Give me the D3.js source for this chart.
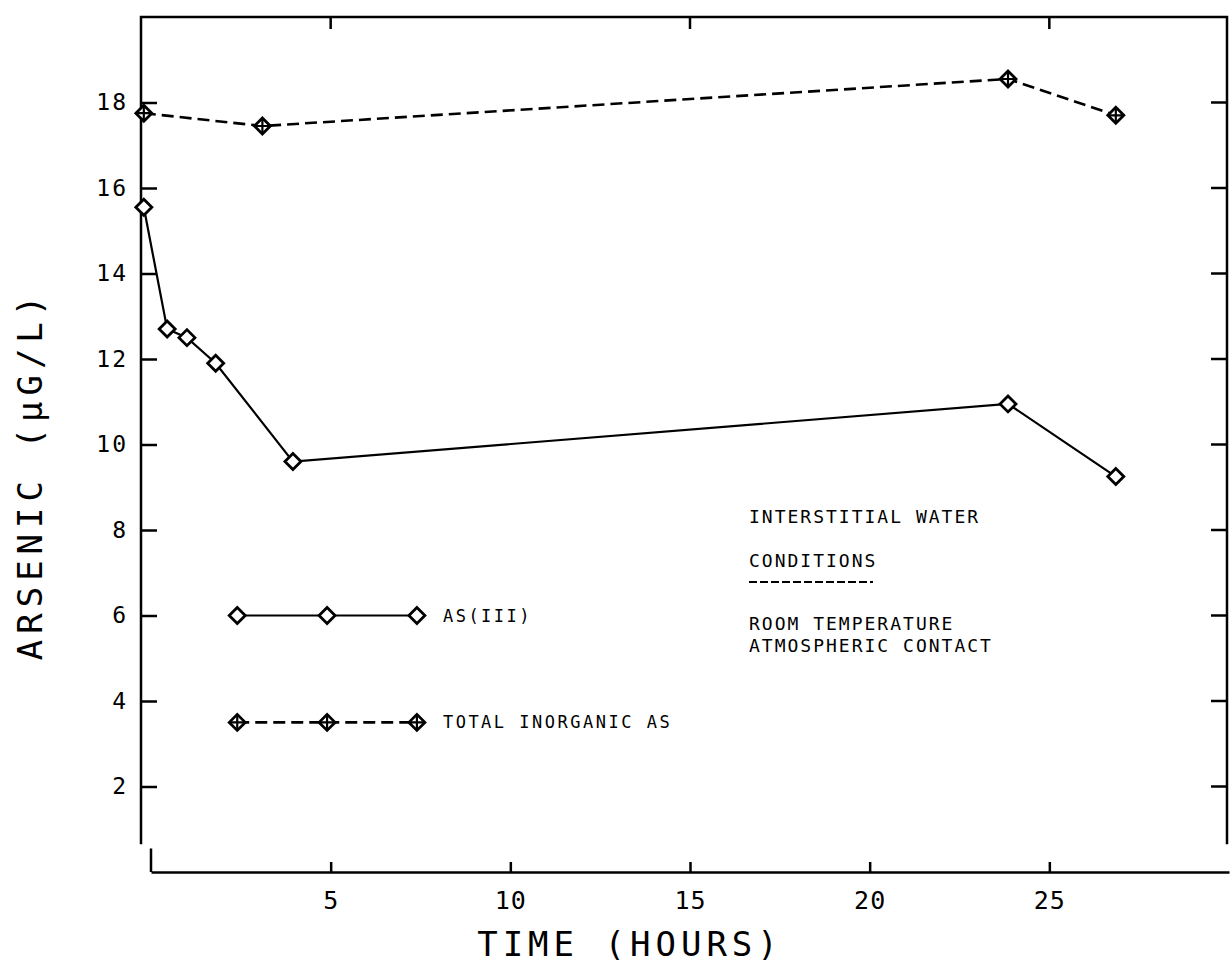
<!DOCTYPE html>
<html lang="en">
<head>
    <meta charset="UTF-8">
    <title>Arsenic in interstitial water vs time</title>
    <script src="https://d3js.org/d3.v7.min.js"></script>
    <style>
        body { margin: 0; padding: 0; background: #fff; overflow: hidden; }
        text { font-family: "DejaVu Sans Mono", "Liberation Mono", monospace; fill: #000; }
        .axis path, .axis line { stroke: #000; stroke-width: 2.5; }
        .frame { stroke: #000; stroke-width: 2.5; fill: none; }
    </style>
</head>
<body>
    <svg id="chart" width="1230" height="963"></svg>

    <script>
        // As(III), solid line with open diamonds
        const as3Time = [-0.2, 0.45, 1.0, 1.8, 3.95, 23.85, 26.85];
        const as3Value = [15.55, 12.7, 12.5, 11.9, 9.6, 10.95, 9.25];

        // Total inorganic As, dashed line with crossed diamonds
        const totalTime = [-0.2, 3.1, 23.85, 26.85];
        const totalValue = [17.75, 17.45, 18.55, 17.7];

        // legend sample points
        const legendTime = [2.4, 4.9, 7.4];
        const legendAs3Y = 6.0;
        const legendTotalY = 3.5;

        const xTicks = [5, 10, 15, 20, 25];
        const xTopTicks = [5, 15, 25];
        const yTicks = [2, 4, 6, 8, 10, 12, 14, 16, 18];

        const notes = ["INTERSTITIAL WATER", "CONDITIONS", "ROOM TEMPERATURE", "ATMOSPHERIC CONTACT"];

        const svg = d3.select("#chart");

        const x = d3.scaleLinear().domain([0, 30]).range([151, 1229]);
        const y = d3.scaleLinear().domain([0, 20]).range([872, 17]);
        const leftX = 141, rightX = 1227, topY = 17;

        // frame: left, top, right edges (bottom comes from the x axis)
        svg.append("path").attr("class", "frame")
            .attr("d", `M${leftX},${y(0.65)}V${topY}H${rightX}V${y(0.65)}`);
        svg.append("line").attr("class", "frame")
            .attr("x1", x(0)).attr("x2", x(0)).attr("y1", y(0.55)).attr("y2", y(0));

        // bottom axis, ticks pointing inward
        const xAxis = svg.append("g").attr("class", "axis")
            .attr("transform", `translate(0,${y(0)})`)
            .call(d3.axisBottom(x).tickValues(xTicks).tickSizeInner(-10).tickSizeOuter(0).tickPadding(18));
        xAxis.selectAll("text").attr("font-size", 25).attr("letter-spacing", 1).attr("dy", "0.75em");

        // top ticks
        svg.append("g").selectAll("line").data(xTopTicks).join("line")
            .attr("x1", d => x(d)).attr("x2", d => x(d))
            .attr("y1", topY).attr("y2", topY + 12)
            .attr("stroke", "#000").attr("stroke-width", 2.5);

        // left axis
        const yAxis = svg.append("g").attr("class", "axis")
            .attr("transform", `translate(${leftX},0)`)
            .call(d3.axisLeft(y).tickValues(yTicks).tickSizeInner(-16).tickSizeOuter(0).tickPadding(13));
        yAxis.select(".domain").remove();
        yAxis.selectAll("text").attr("font-size", 23).attr("letter-spacing", 2);

        // right ticks
        svg.append("g").selectAll("line").data(yTicks).join("line")
            .attr("x1", rightX - 16).attr("x2", rightX)
            .attr("y1", d => y(d)).attr("y2", d => y(d))
            .attr("stroke", "#000").attr("stroke-width", 2.5);

        // axis titles
        svg.append("text")
            .attr("x", 630).attr("y", 956)
            .attr("text-anchor", "middle").attr("font-size", 34).attr("letter-spacing", 5)
            .text("TIME (HOURS)");
        svg.append("text")
            .attr("transform", `translate(42,475) rotate(-90)`)
            .attr("text-anchor", "middle").attr("font-size", 34).attr("letter-spacing", 6)
            .text("ARSENIC (\u00B5G/L)");

        const line = d3.line().x(d => x(d[0])).y(d => y(d[1]));
        const as3 = d3.zip(as3Time, as3Value);
        const total = d3.zip(totalTime, totalValue);
        const legAs3 = legendTime.map(t => [t, legendAs3Y]);
        const legTotal = legendTime.map(t => [t, legendTotalY]);

        function drawSeries(pts, dashed) {
            svg.append("path").datum(pts)
                .attr("d", line).attr("fill", "none").attr("stroke", "#000")
                .attr("stroke-width", dashed ? 2.6 : 2.2)
                .attr("stroke-dasharray", dashed ? "12,6" : null);
            const s = 8;
            const g = svg.append("g").selectAll("g").data(pts).join("g")
                .attr("transform", d => `translate(${x(d[0])},${y(d[1])})`);
            g.append("path")
                .attr("d", `M0,${-s}L${s},0L0,${s}L${-s},0Z`)
                .attr("fill", "#fff").attr("stroke", "#000").attr("stroke-width", 2.8);
            if (dashed) {
                g.append("path")
                    .attr("d", `M0,${-s}V${s}M${-s},0H${s}`)
                    .attr("stroke", "#000").attr("stroke-width", 2.2);
            }
        }

        drawSeries(as3, false);
        drawSeries(total, true);
        drawSeries(legAs3, false);
        drawSeries(legTotal, true);

        // legend labels
        svg.append("text")
            .attr("x", x(legendTime[2]) + 26).attr("y", y(legendAs3Y) + 6)
            .attr("font-size", 17).attr("letter-spacing", 2.5)
            .text("AS(III)");
        svg.append("text")
            .attr("x", x(legendTime[2]) + 26).attr("y", y(legendTotalY) + 6)
            .attr("font-size", 17).attr("letter-spacing", 2.5)
            .text("TOTAL INORGANIC AS");

        // condition notes
        const noteY = [523, 567, 630, 652];
        svg.append("g").selectAll("text").data(notes).join("text")
            .attr("x", 749).attr("y", (d, i) => noteY[i])
            .attr("font-size", 18).attr("letter-spacing", 2)
            .text(d => d);
        // dashed rule under CONDITIONS
        svg.append("line")
            .attr("x1", 749).attr("x2", 873).attr("y1", 582).attr("y2", 582)
            .attr("stroke", "#000").attr("stroke-width", 1.8).attr("stroke-dasharray", "8,3");
    </script>
</body>
</html>
